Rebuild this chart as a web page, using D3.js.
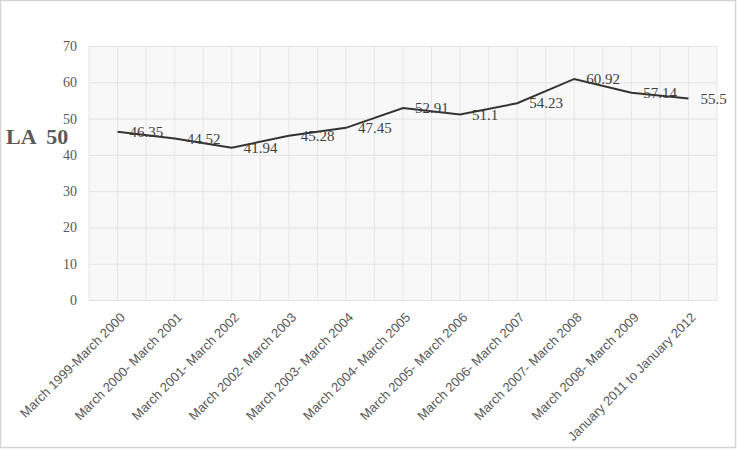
<!DOCTYPE html>
<html>
<head>
<meta charset="utf-8">
<script src="https://cdn.jsdelivr.net/npm/d3@7"></script>
<style>
	body { margin: 0; background: #fff; }
	svg { display: block; }
</style>
</head>
<body>
<svg id="chart" width="737" height="450"></svg>
<script>
//categories and values
var periods = [
	"March 1999-March 2000",
	"March 2000- March 2001",
	"March 2001- March 2002",
	"March 2002- March 2003",
	"March 2003- March 2004",
	"March 2004- March 2005",
	"March 2005- March 2006",
	"March 2006- March 2007",
	"March 2007- March 2008",
	"March 2008- March 2009",
	"January 2011 to January 2012"
];
var la50 = [46.35, 44.52, 41.94, 45.28, 47.45, 52.91, 51.1, 54.23, 60.92, 57.14, 55.5];
var yTicks = [0, 10, 20, 30, 40, 50, 60, 70];

var svg = d3.select("#chart");
var margin = {top: 46, right: 20, bottom: 150, left: 89};
var width = 717 - margin.left;
var height = 300 - margin.top;

//outer frame
svg.append("rect")
	.attr("x", 0.5).attr("y", 0.5)
	.attr("width", 735).attr("height", 447)
	.attr("fill", "#fff")
	.attr("stroke", "#d4d4d4")
	.attr("stroke-width", 1.5);

var g = svg.append("g").attr("transform", "translate(" + margin.left + "," + margin.top + ")");

var x = d3.scaleBand().domain(periods).range([0, width]);
var y = d3.scaleLinear().domain([0, 70]).range([height, 0]);

//plot background
g.append("rect")
	.attr("width", width).attr("height", height)
	.attr("fill", "#f8f8f8");

//vertical grid : band edges and centers
var vlines = [];
periods.forEach(function(p) {
	vlines.push(x(p));
	vlines.push(x(p) + x.bandwidth() / 2);
});
vlines.push(width);
g.selectAll(".vgrid").data(vlines).enter().append("line")
	.attr("class", "vgrid")
	.attr("x1", function(d) { return d; }).attr("x2", function(d) { return d; })
	.attr("y1", 0).attr("y2", height)
	.attr("stroke", "#e6e6e6").attr("stroke-width", 1);

//y axis with gridlines
var yAxis = g.append("g")
	.call(d3.axisLeft(y).tickValues(yTicks).tickSize(-width).tickPadding(12));
yAxis.select(".domain").remove();
yAxis.selectAll(".tick line").attr("stroke", "#e3e3e3");
yAxis.selectAll(".tick text")
	.attr("fill", "#595959")
	.style("font-family", "'Liberation Serif', 'DejaVu Serif', serif")
	.style("font-size", "14px");

//x axis labels, rotated
var xAxis = g.append("g")
	.attr("transform", "translate(0," + height + ")")
	.call(d3.axisBottom(x).tickSize(0).tickPadding(0));
xAxis.select(".domain").attr("stroke", "#e3e3e3");
xAxis.selectAll(".tick text")
	.attr("fill", "#595959")
	.style("font-family", "'Liberation Sans', Arial, sans-serif")
	.style("font-size", "13px")
	.attr("text-anchor", "end")
	.attr("dy", "0.35em")
	.attr("transform", "translate(5,15) rotate(-45)");

//the line
var line = d3.line()
	.x(function(d, i) { return x(periods[i]) + x.bandwidth() / 2; })
	.y(function(d) { return y(d); });

g.append("path")
	.datum(la50)
	.attr("d", line)
	.attr("fill", "none")
	.attr("stroke", "#333")
	.attr("stroke-width", 2);

//value labels
g.selectAll(".val").data(la50).enter().append("text")
	.attr("class", "val")
	.attr("x", function(d, i) { return x(periods[i]) + x.bandwidth() / 2 + 12; })
	.attr("y", function(d) { return y(d); })
	.attr("dy", "0.35em")
	.attr("fill", "#404040")
	.style("font-family", "'Liberation Serif', 'DejaVu Serif', serif")
	.style("font-size", "15px")
	.text(function(d) { return d; });

//axis title
svg.append("text")
	.attr("x", 6).attr("y", 136)
	.attr("dy", "0.35em")
	.attr("fill", "#595959")
	.attr("xml:space", "preserve")
	.style("white-space", "pre")
	.style("font-family", "'Liberation Serif', 'DejaVu Serif', serif")
	.style("font-weight", "bold")
	.style("font-size", "22px")
	.text("LA  50");
</script>
</body>
</html>
